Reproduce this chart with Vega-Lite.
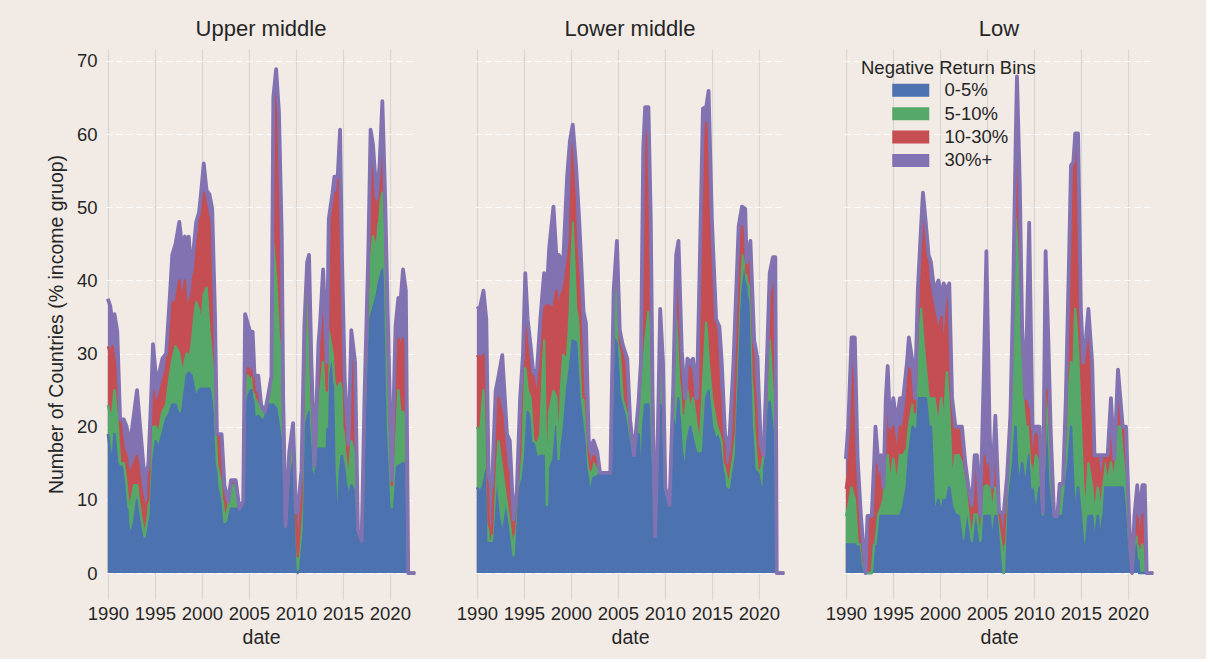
{
  "$schema": "https://vega.github.io/schema/vega-lite/v6.json",
  "background": "#F2EBE5",
  "padding": {"left": 46, "top": 18, "right": 50, "bottom": 12},
  "datasets": {
    "rows": [
      {"income":"Upper middle","date":1990.00,"upto5":19,"upto10":23,"upto30":31,"total":37.5},
      {"income":"Upper middle","date":1990.25,"upto5":16.5,"upto10":21.5,"upto30":30,"total":36.5},
      {"income":"Upper middle","date":1990.50,"upto5":15,"upto10":22,"upto30":31,"total":34},
      {"income":"Upper middle","date":1990.70,"upto5":19,"upto10":25,"upto30":29,"total":35.4},
      {"income":"Upper middle","date":1991.00,"upto5":15,"upto10":21,"upto30":26,"total":33},
      {"income":"Upper middle","date":1991.30,"upto5":14.5,"upto10":15,"upto30":21,"total":21},
      {"income":"Upper middle","date":1991.70,"upto5":14.5,"upto10":15,"upto30":17,"total":21},
      {"income":"Upper middle","date":1992.00,"upto5":10,"upto10":12,"upto30":16,"total":20},
      {"income":"Upper middle","date":1992.20,"upto5":6,"upto10":9,"upto30":14,"total":18.6},
      {"income":"Upper middle","date":1992.50,"upto5":5.5,"upto10":10,"upto30":14,"total":19},
      {"income":"Upper middle","date":1992.80,"upto5":7,"upto10":12,"upto30":15,"total":22},
      {"income":"Upper middle","date":1993.10,"upto5":10,"upto10":12,"upto30":16,"total":25},
      {"income":"Upper middle","date":1993.50,"upto5":6,"upto10":8,"upto30":12,"total":19},
      {"income":"Upper middle","date":1993.90,"upto5":4.2,"upto10":5,"upto30":9,"total":13},
      {"income":"Upper middle","date":1994.30,"upto5":7.5,"upto10":8,"upto30":10,"total":14.7},
      {"income":"Upper middle","date":1994.60,"upto5":12,"upto10":17,"upto30":21,"total":24},
      {"income":"Upper middle","date":1994.80,"upto5":15,"upto10":20,"upto30":25,"total":31.3},
      {"income":"Upper middle","date":1995.10,"upto5":18,"upto10":20,"upto30":23,"total":27},
      {"income":"Upper middle","date":1995.40,"upto5":17,"upto10":19,"upto30":24,"total":27},
      {"income":"Upper middle","date":1995.80,"upto5":19,"upto10":22,"upto30":26,"total":29.3},
      {"income":"Upper middle","date":1996.20,"upto5":21,"upto10":23,"upto30":28,"total":30},
      {"income":"Upper middle","date":1996.60,"upto5":22,"upto10":27,"upto30":34,"total":38},
      {"income":"Upper middle","date":1996.85,"upto5":23,"upto10":29,"upto30":37,"total":43.5},
      {"income":"Upper middle","date":1997.20,"upto5":23,"upto10":31,"upto30":37,"total":45},
      {"income":"Upper middle","date":1997.60,"upto5":21.5,"upto10":30,"upto30":40,"total":48},
      {"income":"Upper middle","date":1997.90,"upto5":22,"upto10":27,"upto30":37,"total":44.5},
      {"income":"Upper middle","date":1998.20,"upto5":25,"upto10":29,"upto30":40,"total":46},
      {"income":"Upper middle","date":1998.40,"upto5":27,"upto10":30,"upto30":35,"total":41.5},
      {"income":"Upper middle","date":1998.60,"upto5":27.4,"upto10":29,"upto30":37,"total":46},
      {"income":"Upper middle","date":1998.90,"upto5":27,"upto10":31,"upto30":38,"total":41},
      {"income":"Upper middle","date":1999.20,"upto5":25,"upto10":35,"upto30":42,"total":45.4},
      {"income":"Upper middle","date":1999.40,"upto5":23.9,"upto10":37,"upto30":44,"total":48},
      {"income":"Upper middle","date":1999.70,"upto5":25,"upto10":36,"upto30":47,"total":49.3},
      {"income":"Upper middle","date":1999.90,"upto5":25.2,"upto10":33,"upto30":50,"total":51.8},
      {"income":"Upper middle","date":2000.20,"upto5":25.2,"upto10":38,"upto30":52,"total":56},
      {"income":"Upper middle","date":2000.50,"upto5":25.2,"upto10":39,"upto30":50,"total":52.3},
      {"income":"Upper middle","date":2000.80,"upto5":25.2,"upto10":33,"upto30":48,"total":51.8},
      {"income":"Upper middle","date":2001.10,"upto5":23,"upto10":29,"upto30":46,"total":49.8},
      {"income":"Upper middle","date":2001.40,"upto5":17,"upto10":22,"upto30":30,"total":35},
      {"income":"Upper middle","date":2001.60,"upto5":12,"upto10":15,"upto30":19,"total":19},
      {"income":"Upper middle","date":2002.10,"upto5":9,"upto10":12,"upto30":18,"total":19},
      {"income":"Upper middle","date":2002.40,"upto5":6.4,"upto10":7,"upto30":10,"total":12},
      {"income":"Upper middle","date":2002.80,"upto5":7,"upto10":9,"upto30":9.8,"total":9.8},
      {"income":"Upper middle","date":2003.10,"upto5":8.8,"upto10":12,"upto30":12.7,"total":12.7},
      {"income":"Upper middle","date":2003.60,"upto5":8.8,"upto10":12,"upto30":12.7,"total":12.7},
      {"income":"Upper middle","date":2004.00,"upto5":8.8,"upto10":8.8,"upto30":8.8,"total":8.8},
      {"income":"Upper middle","date":2004.40,"upto5":9.8,"upto10":9.8,"upto30":9.8,"total":9.8},
      {"income":"Upper middle","date":2004.60,"upto5":21,"upto10":24,"upto30":27,"total":35.4},
      {"income":"Upper middle","date":2004.90,"upto5":24,"upto10":27,"upto30":28,"total":34},
      {"income":"Upper middle","date":2005.20,"upto5":25,"upto10":26,"upto30":27,"total":32.7},
      {"income":"Upper middle","date":2005.40,"upto5":25,"upto10":27,"upto30":28,"total":33},
      {"income":"Upper middle","date":2005.60,"upto5":21,"upto10":24,"upto30":25,"total":27},
      {"income":"Upper middle","date":2006.00,"upto5":21.5,"upto10":23,"upto30":24,"total":27},
      {"income":"Upper middle","date":2006.30,"upto5":21,"upto10":22,"upto30":23,"total":23},
      {"income":"Upper middle","date":2006.70,"upto5":21,"upto10":22,"upto30":22,"total":22},
      {"income":"Upper middle","date":2007.00,"upto5":23,"upto10":23.5,"upto30":23.9,"total":23.9},
      {"income":"Upper middle","date":2007.40,"upto5":23,"upto10":25,"upto30":26.9,"total":26.9},
      {"income":"Upper middle","date":2007.60,"upto5":23,"upto10":45,"upto30":60,"total":65},
      {"income":"Upper middle","date":2007.90,"upto5":22.5,"upto10":40,"upto30":66,"total":68.9},
      {"income":"Upper middle","date":2008.20,"upto5":20,"upto10":32,"upto30":58,"total":63},
      {"income":"Upper middle","date":2008.50,"upto5":17,"upto10":30,"upto30":43,"total":46},
      {"income":"Upper middle","date":2008.65,"upto5":9,"upto10":18,"upto30":23,"total":24},
      {"income":"Upper middle","date":2008.90,"upto5":6,"upto10":6.4,"upto30":6.4,"total":6.4},
      {"income":"Upper middle","date":2009.30,"upto5":12,"upto10":15,"upto30":16.6,"total":16.6},
      {"income":"Upper middle","date":2009.70,"upto5":15,"upto10":19,"upto30":20.5,"total":20.5},
      {"income":"Upper middle","date":2010.00,"upto5":7,"upto10":8.3,"upto30":8.3,"total":8.3},
      {"income":"Upper middle","date":2010.20,"upto5":0,"upto10":0.5,"upto30":2.3,"total":8.5},
      {"income":"Upper middle","date":2010.60,"upto5":4,"upto10":6,"upto30":10,"total":14},
      {"income":"Upper middle","date":2010.90,"upto5":19,"upto10":25,"upto30":30,"total":33.7},
      {"income":"Upper middle","date":2011.20,"upto5":21,"upto10":40,"upto30":42,"total":42.5},
      {"income":"Upper middle","date":2011.40,"upto5":22,"upto10":30,"upto30":38,"total":43.5},
      {"income":"Upper middle","date":2011.65,"upto5":14,"upto10":20,"upto30":25,"total":28.8},
      {"income":"Upper middle","date":2012.00,"upto5":12.7,"upto10":14.7,"upto30":14.7,"total":14.7},
      {"income":"Upper middle","date":2012.40,"upto5":17,"upto10":22,"upto30":28,"total":31.3},
      {"income":"Upper middle","date":2012.55,"upto5":17,"upto10":24,"upto30":31,"total":33.7},
      {"income":"Upper middle","date":2012.90,"upto5":17,"upto10":28.8,"upto30":38,"total":41.5},
      {"income":"Upper middle","date":2013.30,"upto5":17,"upto10":20,"upto30":25,"total":28.8},
      {"income":"Upper middle","date":2013.50,"upto5":26,"upto10":33,"upto30":45,"total":48.4},
      {"income":"Upper middle","date":2013.90,"upto5":28.8,"upto10":30,"upto30":50,"total":52},
      {"income":"Upper middle","date":2014.10,"upto5":14,"upto10":26,"upto30":52,"total":54.2},
      {"income":"Upper middle","date":2014.45,"upto5":6,"upto10":25,"upto30":52,"total":54.2},
      {"income":"Upper middle","date":2014.70,"upto5":14,"upto10":26,"upto30":58,"total":60.6},
      {"income":"Upper middle","date":2014.90,"upto5":16,"upto10":25,"upto30":40,"total":43.5},
      {"income":"Upper middle","date":2015.20,"upto5":14,"upto10":17,"upto30":20,"total":26.4},
      {"income":"Upper middle","date":2015.60,"upto5":10,"upto10":12,"upto30":17.6,"total":17.6},
      {"income":"Upper middle","date":2015.90,"upto5":12,"upto10":18,"upto30":30,"total":33.2},
      {"income":"Upper middle","date":2016.30,"upto5":11,"upto10":16,"upto30":26,"total":28.8},
      {"income":"Upper middle","date":2016.60,"upto5":5.9,"upto10":5.9,"upto30":5.9,"total":5.9},
      {"income":"Upper middle","date":2017.00,"upto5":4.4,"upto10":4.4,"upto30":4.4,"total":4.4},
      {"income":"Upper middle","date":2017.30,"upto5":19,"upto10":21,"upto30":22,"total":23.9},
      {"income":"Upper middle","date":2017.70,"upto5":33,"upto10":37,"upto30":40,"total":43.5},
      {"income":"Upper middle","date":2017.95,"upto5":35,"upto10":42,"upto30":56,"total":60.6},
      {"income":"Upper middle","date":2018.20,"upto5":36,"upto10":46,"upto30":55,"total":58.6},
      {"income":"Upper middle","date":2018.60,"upto5":38,"upto10":44,"upto30":48,"total":51.3},
      {"income":"Upper middle","date":2018.90,"upto5":40,"upto10":50,"upto30":53,"total":55.7},
      {"income":"Upper middle","date":2019.20,"upto5":41.5,"upto10":52,"upto30":60,"total":64.5},
      {"income":"Upper middle","date":2019.50,"upto5":33,"upto10":40,"upto30":48,"total":51.3},
      {"income":"Upper middle","date":2019.80,"upto5":17,"upto10":20,"upto30":30,"total":33.7},
      {"income":"Upper middle","date":2020.20,"upto5":8,"upto10":9,"upto30":12,"total":12.7},
      {"income":"Upper middle","date":2020.60,"upto5":14,"upto10":16,"upto30":27,"total":33.7},
      {"income":"Upper middle","date":2020.90,"upto5":14.7,"upto10":25,"upto30":32,"total":37.6},
      {"income":"Upper middle","date":2021.10,"upto5":14.7,"upto10":22,"upto30":31,"total":36.6},
      {"income":"Upper middle","date":2021.40,"upto5":15,"upto10":22,"upto30":32,"total":41.5},
      {"income":"Upper middle","date":2021.70,"upto5":15,"upto10":20,"upto30":28,"total":38.6},
      {"income":"Upper middle","date":2021.95,"upto5":0,"upto10":0,"upto30":0,"total":0},
      {"income":"Upper middle","date":2022.70,"upto5":0,"upto10":0,"upto30":0,"total":0},

      {"income":"Lower middle","date":1990.00,"upto5":11.7,"upto10":20,"upto30":29.8,"total":36.1},
      {"income":"Lower middle","date":1990.35,"upto5":11,"upto10":19,"upto30":29.3,"total":36.4},
      {"income":"Lower middle","date":1990.70,"upto5":12,"upto10":25,"upto30":29.8,"total":38.6},
      {"income":"Lower middle","date":1991.00,"upto5":14,"upto10":23.9,"upto30":24,"total":34.7},
      {"income":"Lower middle","date":1991.25,"upto5":4.4,"upto10":4.4,"upto30":6.8,"total":13.2},
      {"income":"Lower middle","date":1991.60,"upto5":4.4,"upto10":4.4,"upto30":5.4,"total":11.7},
      {"income":"Lower middle","date":1992.00,"upto5":12,"upto10":12,"upto30":19,"total":24.9},
      {"income":"Lower middle","date":1992.30,"upto5":8,"upto10":18,"upto30":24,"total":26.9},
      {"income":"Lower middle","date":1992.70,"upto5":5,"upto10":14,"upto30":21.5,"total":29.8},
      {"income":"Lower middle","date":1993.20,"upto5":9,"upto10":9.3,"upto30":14.2,"total":19},
      {"income":"Lower middle","date":1993.50,"upto5":5,"upto10":6.8,"upto30":13.7,"total":18.1},
      {"income":"Lower middle","date":1993.90,"upto5":2.4,"upto10":2.4,"upto30":5.4,"total":7.3},
      {"income":"Lower middle","date":1994.25,"upto5":10,"upto10":10.3,"upto30":10.5,"total":11.2},
      {"income":"Lower middle","date":1994.60,"upto5":11.7,"upto10":14.2,"upto30":16.6,"total":23.9},
      {"income":"Lower middle","date":1994.90,"upto5":13,"upto10":25,"upto30":29,"total":29.8},
      {"income":"Lower middle","date":1995.15,"upto5":16,"upto10":28,"upto30":33.7,"total":41},
      {"income":"Lower middle","date":1995.40,"upto5":22,"upto10":25,"upto30":31,"total":34.7},
      {"income":"Lower middle","date":1995.70,"upto5":21,"upto10":23.9,"upto30":27.4,"total":31.3},
      {"income":"Lower middle","date":1996.00,"upto5":18,"upto10":18.1,"upto30":26.9,"total":27.4},
      {"income":"Lower middle","date":1996.40,"upto5":15.6,"upto10":17.6,"upto30":23.9,"total":27.8},
      {"income":"Lower middle","date":1996.75,"upto5":16,"upto10":19,"upto30":28.8,"total":34.7},
      {"income":"Lower middle","date":1997.15,"upto5":16,"upto10":31.8,"upto30":36.1,"total":41},
      {"income":"Lower middle","date":1997.45,"upto5":9.3,"upto10":9.3,"upto30":36.6,"total":39},
      {"income":"Lower middle","date":1997.70,"upto5":14,"upto10":22,"upto30":36.5,"total":44.5},
      {"income":"Lower middle","date":1998.15,"upto5":15.6,"upto10":24.9,"upto30":36.1,"total":50.1},
      {"income":"Lower middle","date":1998.45,"upto5":20,"upto10":24,"upto30":38.6,"total":43.5},
      {"income":"Lower middle","date":1998.70,"upto5":14,"upto10":15.6,"upto30":35.7,"total":43.5},
      {"income":"Lower middle","date":1998.95,"upto5":17,"upto10":25,"upto30":38,"total":43},
      {"income":"Lower middle","date":1999.20,"upto5":19,"upto10":29.8,"upto30":38.6,"total":43},
      {"income":"Lower middle","date":1999.60,"upto5":25,"upto10":29,"upto30":42,"total":54.2},
      {"income":"Lower middle","date":1999.90,"upto5":28,"upto10":36,"upto30":45.4,"total":59.1},
      {"income":"Lower middle","date":2000.20,"upto5":31.8,"upto10":47.9,"upto30":59.1,"total":61.3},
      {"income":"Lower middle","date":2000.55,"upto5":31.5,"upto10":36.1,"upto30":45.4,"total":55.7},
      {"income":"Lower middle","date":2000.90,"upto5":23.9,"upto10":33.7,"upto30":38.6,"total":47.9},
      {"income":"Lower middle","date":2001.35,"upto5":19,"upto10":23.9,"upto30":24,"total":35.7},
      {"income":"Lower middle","date":2001.60,"upto5":17,"upto10":20,"upto30":23.9,"total":34.2},
      {"income":"Lower middle","date":2001.90,"upto5":11.7,"upto10":14.2,"upto30":16.6,"total":18.1},
      {"income":"Lower middle","date":2002.10,"upto5":11.2,"upto10":13,"upto30":14.2,"total":16.6},
      {"income":"Lower middle","date":2002.40,"upto5":13,"upto10":15,"upto30":16,"total":18.1},
      {"income":"Lower middle","date":2002.80,"upto5":13.2,"upto10":14,"upto30":15.5,"total":16.6},
      {"income":"Lower middle","date":2003.10,"upto5":13.7,"upto10":13.7,"upto30":13.7,"total":13.7},
      {"income":"Lower middle","date":2004.20,"upto5":13.7,"upto10":13.7,"upto30":13.7,"total":13.7},
      {"income":"Lower middle","date":2004.55,"upto5":32.2,"upto10":32.2,"upto30":37.6,"total":38.6},
      {"income":"Lower middle","date":2004.90,"upto5":31.3,"upto10":40.5,"upto30":43.5,"total":45.4},
      {"income":"Lower middle","date":2005.20,"upto5":24,"upto10":30,"upto30":31.8,"total":33.2},
      {"income":"Lower middle","date":2005.50,"upto5":23.9,"upto10":23.9,"upto30":29.8,"total":31.3},
      {"income":"Lower middle","date":2006.00,"upto5":21.5,"upto10":21.5,"upto30":27.4,"total":29.3},
      {"income":"Lower middle","date":2006.30,"upto5":17,"upto10":19,"upto30":20,"total":21},
      {"income":"Lower middle","date":2006.70,"upto5":16.1,"upto10":16.1,"upto30":16.1,"total":16.1},
      {"income":"Lower middle","date":2007.20,"upto5":19,"upto10":23,"upto30":23.2,"total":23.4},
      {"income":"Lower middle","date":2007.45,"upto5":12.2,"upto10":22.5,"upto30":27.8,"total":28.8},
      {"income":"Lower middle","date":2007.70,"upto5":20,"upto10":28,"upto30":45,"total":58.1},
      {"income":"Lower middle","date":2007.90,"upto5":23,"upto10":31.3,"upto30":60.6,"total":63.7},
      {"income":"Lower middle","date":2008.25,"upto5":23,"upto10":35.7,"upto30":58.1,"total":63.7},
      {"income":"Lower middle","date":2008.50,"upto5":14,"upto10":25,"upto30":36.1,"total":48.4},
      {"income":"Lower middle","date":2008.70,"upto5":11.7,"upto10":20,"upto30":23.9,"total":23.9},
      {"income":"Lower middle","date":2008.95,"upto5":4.4,"upto10":5,"upto30":5,"total":5},
      {"income":"Lower middle","date":2009.25,"upto5":18,"upto10":18.5,"upto30":18.8,"total":19},
      {"income":"Lower middle","date":2009.50,"upto5":23,"upto10":30.3,"upto30":35.2,"total":36.1},
      {"income":"Lower middle","date":2009.80,"upto5":21.5,"upto10":24,"upto30":27,"total":28.8},
      {"income":"Lower middle","date":2010.05,"upto5":11.7,"upto10":11.7,"upto30":11.7,"total":11.7},
      {"income":"Lower middle","date":2010.50,"upto5":9.3,"upto10":9.3,"upto30":9.3,"total":9.3},
      {"income":"Lower middle","date":2010.90,"upto5":21,"upto10":24,"upto30":25,"total":25.9},
      {"income":"Lower middle","date":2011.20,"upto5":18.6,"upto10":38.6,"upto30":40,"total":43.5},
      {"income":"Lower middle","date":2011.45,"upto5":23.9,"upto10":28.8,"upto30":35,"total":45.4},
      {"income":"Lower middle","date":2011.80,"upto5":16.6,"upto10":21.5,"upto30":25.9,"total":30.3},
      {"income":"Lower middle","date":2012.15,"upto5":13.7,"upto10":21.5,"upto30":23.9,"total":23.9},
      {"income":"Lower middle","date":2012.40,"upto5":18,"upto10":24.9,"upto30":28.8,"total":29.3},
      {"income":"Lower middle","date":2012.70,"upto5":20,"upto10":22,"upto30":27.8,"total":28.8},
      {"income":"Lower middle","date":2013.00,"upto5":18.1,"upto10":23.9,"upto30":27.8,"total":29.3},
      {"income":"Lower middle","date":2013.40,"upto5":16.1,"upto10":20,"upto30":23.9,"total":23.9},
      {"income":"Lower middle","date":2013.70,"upto5":16.6,"upto10":16.6,"upto30":38.6,"total":41.5},
      {"income":"Lower middle","date":2014.05,"upto5":16.1,"upto10":25.4,"upto30":55.7,"total":63.5},
      {"income":"Lower middle","date":2014.40,"upto5":23.9,"upto10":34.2,"upto30":61.5,"total":63.7},
      {"income":"Lower middle","date":2014.65,"upto5":24.9,"upto10":28.8,"upto30":60.1,"total":65.9},
      {"income":"Lower middle","date":2015.00,"upto5":20,"upto10":23.9,"upto30":43.5,"total":48.4},
      {"income":"Lower middle","date":2015.45,"upto5":18.1,"upto10":20.5,"upto30":33.7,"total":34.7},
      {"income":"Lower middle","date":2015.80,"upto5":19,"upto10":19,"upto30":24.9,"total":33.7},
      {"income":"Lower middle","date":2016.05,"upto5":17,"upto10":18,"upto30":24.9,"total":28.8},
      {"income":"Lower middle","date":2016.40,"upto5":11.7,"upto10":14.2,"upto30":15.1,"total":19},
      {"income":"Lower middle","date":2016.80,"upto5":11.2,"upto10":11.7,"upto30":14.2,"total":16.6},
      {"income":"Lower middle","date":2017.30,"upto5":16.1,"upto10":16.1,"upto30":19,"total":28.8},
      {"income":"Lower middle","date":2017.85,"upto5":28,"upto10":35,"upto30":38.6,"total":47.4},
      {"income":"Lower middle","date":2018.20,"upto5":38,"upto10":43.5,"upto30":47.4,"total":50.1},
      {"income":"Lower middle","date":2018.55,"upto5":41.5,"upto10":42,"upto30":45,"total":49.8},
      {"income":"Lower middle","date":2018.70,"upto5":38,"upto10":40,"upto30":41,"total":42.5},
      {"income":"Lower middle","date":2019.10,"upto5":35.7,"upto10":38.6,"upto30":43.5,"total":45.4},
      {"income":"Lower middle","date":2019.50,"upto5":14,"upto10":20,"upto30":26.4,"total":31.8},
      {"income":"Lower middle","date":2019.85,"upto5":14.2,"upto10":14.2,"upto30":21,"total":29.3},
      {"income":"Lower middle","date":2020.20,"upto5":11.7,"upto10":13.7,"upto30":16.6,"total":17.6},
      {"income":"Lower middle","date":2020.50,"upto5":11.7,"upto10":16.1,"upto30":16.1,"total":16.1},
      {"income":"Lower middle","date":2020.85,"upto5":21.5,"upto10":23.9,"upto30":26.4,"total":28.8},
      {"income":"Lower middle","date":2021.15,"upto5":23.4,"upto10":31.8,"upto30":38.6,"total":41},
      {"income":"Lower middle","date":2021.50,"upto5":19,"upto10":24,"upto30":38.6,"total":43.2},
      {"income":"Lower middle","date":2021.75,"upto5":15,"upto10":22,"upto30":40,"total":43.2},
      {"income":"Lower middle","date":2021.90,"upto5":0,"upto10":0,"upto30":0,"total":0},
      {"income":"Lower middle","date":2022.70,"upto5":0,"upto10":0,"upto30":0,"total":0},

      {"income":"Low","date":1990.00,"upto5":3.9,"upto10":7.8,"upto30":11.5,"total":15.6},
      {"income":"Low","date":1990.25,"upto5":3.9,"upto10":9,"upto30":14,"total":20},
      {"income":"Low","date":1990.60,"upto5":3.9,"upto10":11.7,"upto30":28.8,"total":32.2},
      {"income":"Low","date":1990.95,"upto5":3.9,"upto10":10,"upto30":22,"total":32.2},
      {"income":"Low","date":1991.25,"upto5":3.9,"upto10":3.9,"upto30":10,"total":15.6},
      {"income":"Low","date":1991.60,"upto5":3.9,"upto10":3.9,"upto30":6,"total":7.8},
      {"income":"Low","date":1991.85,"upto5":0.5,"upto10":1,"upto30":2,"total":3.9},
      {"income":"Low","date":1992.10,"upto5":0,"upto10":0,"upto30":0,"total":0},
      {"income":"Low","date":1992.30,"upto5":0,"upto10":0,"upto30":7.8,"total":7.8},
      {"income":"Low","date":1992.75,"upto5":0,"upto10":0,"upto30":7.8,"total":7.8},
      {"income":"Low","date":1993.00,"upto5":3.9,"upto10":3.9,"upto30":12,"total":15},
      {"income":"Low","date":1993.15,"upto5":3.9,"upto10":4,"upto30":16,"total":20},
      {"income":"Low","date":1993.45,"upto5":7.8,"upto10":8,"upto30":12,"total":15.1},
      {"income":"Low","date":1993.75,"upto5":7.8,"upto10":9,"upto30":14,"total":16.1},
      {"income":"Low","date":1994.00,"upto5":7.8,"upto10":10,"upto30":11.7,"total":11.7},
      {"income":"Low","date":1994.25,"upto5":7.8,"upto10":14,"upto30":20,"total":23.9},
      {"income":"Low","date":1994.45,"upto5":7.8,"upto10":16.1,"upto30":24,"total":28.3},
      {"income":"Low","date":1994.70,"upto5":7.8,"upto10":11.7,"upto30":18,"total":20},
      {"income":"Low","date":1995.05,"upto5":7.8,"upto10":15.6,"upto30":20,"total":23.9},
      {"income":"Low","date":1995.40,"upto5":7.8,"upto10":11.7,"upto30":16.1,"total":20.5},
      {"income":"Low","date":1995.75,"upto5":7.8,"upto10":16.1,"upto30":20,"total":23.9},
      {"income":"Low","date":1996.10,"upto5":9,"upto10":16.1,"upto30":20,"total":23.9},
      {"income":"Low","date":1996.50,"upto5":12,"upto10":17,"upto30":24,"total":28.8},
      {"income":"Low","date":1996.70,"upto5":16,"upto10":20,"upto30":28,"total":32.2},
      {"income":"Low","date":1997.10,"upto5":20,"upto10":23,"upto30":27,"total":28.8},
      {"income":"Low","date":1997.35,"upto5":20,"upto10":20,"upto30":22,"total":23.9},
      {"income":"Low","date":1997.65,"upto5":23.9,"upto10":27.8,"upto30":34,"total":38.6},
      {"income":"Low","date":1998.00,"upto5":23.9,"upto10":36.1,"upto30":44,"total":47.4},
      {"income":"Low","date":1998.20,"upto5":23.9,"upto10":32.2,"upto30":48,"total":52},
      {"income":"Low","date":1998.50,"upto5":23.9,"upto10":28,"upto30":46,"total":47.9},
      {"income":"Low","date":1998.80,"upto5":20,"upto10":23.9,"upto30":40,"total":43.5},
      {"income":"Low","date":1999.05,"upto5":20,"upto10":23.9,"upto30":38,"total":42.5},
      {"income":"Low","date":1999.40,"upto5":8,"upto10":23.9,"upto30":35.7,"total":38.6},
      {"income":"Low","date":1999.85,"upto5":10,"upto10":20,"upto30":33,"total":40},
      {"income":"Low","date":2000.15,"upto5":8,"upto10":23.9,"upto30":35,"total":37.6},
      {"income":"Low","date":2000.40,"upto5":10,"upto10":20,"upto30":30,"total":39.6},
      {"income":"Low","date":2000.75,"upto5":10,"upto10":27.4,"upto30":36,"total":38.6},
      {"income":"Low","date":2001.00,"upto5":11.7,"upto10":22,"upto30":38.6,"total":39.6},
      {"income":"Low","date":2001.30,"upto5":9,"upto10":12,"upto30":22,"total":23.9},
      {"income":"Low","date":2001.65,"upto5":8,"upto10":16.1,"upto30":20,"total":20},
      {"income":"Low","date":2002.00,"upto5":7.8,"upto10":16.1,"upto30":20,"total":20},
      {"income":"Low","date":2002.35,"upto5":4.4,"upto10":15,"upto30":18,"total":20},
      {"income":"Low","date":2002.70,"upto5":4.4,"upto10":12,"upto30":14,"total":15.1},
      {"income":"Low","date":2003.05,"upto5":7.8,"upto10":7.8,"upto30":11.7,"total":11.7},
      {"income":"Low","date":2003.40,"upto5":3.9,"upto10":4.4,"upto30":9.3,"total":9.3},
      {"income":"Low","date":2003.70,"upto5":7.8,"upto10":8,"upto30":16.1,"total":16.1},
      {"income":"Low","date":2003.95,"upto5":7.8,"upto10":8,"upto30":14,"total":16.1},
      {"income":"Low","date":2004.30,"upto5":3.9,"upto10":4.4,"upto30":7.8,"total":7.8},
      {"income":"Low","date":2004.70,"upto5":7.8,"upto10":11.7,"upto30":16,"total":28.8},
      {"income":"Low","date":2004.95,"upto5":7.8,"upto10":12,"upto30":14,"total":44},
      {"income":"Low","date":2005.30,"upto5":7.8,"upto10":11.7,"upto30":15,"total":19},
      {"income":"Low","date":2005.55,"upto5":4.4,"upto10":7.8,"upto30":11.7,"total":11.7},
      {"income":"Low","date":2005.90,"upto5":7.8,"upto10":11.7,"upto30":18,"total":21.5},
      {"income":"Low","date":2006.30,"upto5":7.8,"upto10":7.8,"upto30":8.3,"total":8.3},
      {"income":"Low","date":2006.80,"upto5":0,"upto10":0,"upto30":4,"total":8.3},
      {"income":"Low","date":2007.15,"upto5":7.8,"upto10":11.7,"upto30":13.2,"total":13.2},
      {"income":"Low","date":2007.50,"upto5":11.7,"upto10":20,"upto30":21.5,"total":21.5},
      {"income":"Low","date":2007.80,"upto5":15,"upto10":30,"upto30":36,"total":38.6},
      {"income":"Low","date":2008.05,"upto5":20,"upto10":48.4,"upto30":56,"total":58.1},
      {"income":"Low","date":2008.20,"upto5":15,"upto10":45,"upto30":62,"total":67.9},
      {"income":"Low","date":2008.50,"upto5":11.7,"upto10":35,"upto30":48,"total":53.2},
      {"income":"Low","date":2008.75,"upto5":15,"upto10":25,"upto30":32,"total":33.7},
      {"income":"Low","date":2009.10,"upto5":11.7,"upto10":20,"upto30":23.9,"total":23.9},
      {"income":"Low","date":2009.50,"upto5":16.1,"upto10":20,"upto30":22,"total":47.9},
      {"income":"Low","date":2009.85,"upto5":11.7,"upto10":11.7,"upto30":15,"total":20},
      {"income":"Low","date":2010.20,"upto5":7.8,"upto10":16.1,"upto30":19,"total":20},
      {"income":"Low","date":2010.60,"upto5":11.7,"upto10":15,"upto30":18,"total":20},
      {"income":"Low","date":2010.95,"upto5":7.8,"upto10":8,"upto30":8.3,"total":8.3},
      {"income":"Low","date":2011.25,"upto5":12,"upto10":23.9,"upto30":25,"total":44},
      {"income":"Low","date":2011.55,"upto5":20,"upto10":20,"upto30":25,"total":31.3},
      {"income":"Low","date":2011.80,"upto5":11.7,"upto10":12,"upto30":17,"total":19},
      {"income":"Low","date":2012.15,"upto5":7.8,"upto10":7.8,"upto30":7.8,"total":7.8},
      {"income":"Low","date":2012.50,"upto5":7.8,"upto10":7.8,"upto30":7.8,"total":7.8},
      {"income":"Low","date":2012.75,"upto5":7.8,"upto10":11.7,"upto30":12.2,"total":12.2},
      {"income":"Low","date":2013.10,"upto5":7.8,"upto10":11.7,"upto30":12.2,"total":12.2},
      {"income":"Low","date":2013.40,"upto5":11.7,"upto10":16.1,"upto30":20,"total":23.9},
      {"income":"Low","date":2013.75,"upto5":16,"upto10":25,"upto30":40,"total":43.5},
      {"income":"Low","date":2013.95,"upto5":20,"upto10":28.8,"upto30":52,"total":55.7},
      {"income":"Low","date":2014.20,"upto5":11.7,"upto10":26,"upto30":54,"total":56.2},
      {"income":"Low","date":2014.40,"upto5":7.8,"upto10":36.1,"upto30":58,"total":60.1},
      {"income":"Low","date":2014.70,"upto5":11.7,"upto10":30,"upto30":58,"total":60.1},
      {"income":"Low","date":2015.00,"upto5":7.8,"upto10":20,"upto30":34,"total":36.1},
      {"income":"Low","date":2015.25,"upto5":3.9,"upto10":12,"upto30":26,"total":28.8},
      {"income":"Low","date":2015.55,"upto5":3.9,"upto10":7.8,"upto30":30,"total":32.2},
      {"income":"Low","date":2015.80,"upto5":7.8,"upto10":15,"upto30":32,"total":36.1},
      {"income":"Low","date":2016.20,"upto5":7.8,"upto10":11.7,"upto30":24,"total":28.8},
      {"income":"Low","date":2016.45,"upto5":3.9,"upto10":7.8,"upto30":16.1,"total":16.1},
      {"income":"Low","date":2016.80,"upto5":7.8,"upto10":11.7,"upto30":16.1,"total":16.1},
      {"income":"Low","date":2017.15,"upto5":3.9,"upto10":7.8,"upto30":12,"total":16.1},
      {"income":"Low","date":2017.50,"upto5":11.7,"upto10":15.1,"upto30":16.1,"total":16.1},
      {"income":"Low","date":2017.85,"upto5":11.7,"upto10":12,"upto30":16.1,"total":16.1},
      {"income":"Low","date":2018.20,"upto5":11.7,"upto10":15.1,"upto30":20,"total":23.9},
      {"income":"Low","date":2018.55,"upto5":11.7,"upto10":12,"upto30":15.6,"total":15.6},
      {"income":"Low","date":2018.95,"upto5":11.7,"upto10":20,"upto30":24,"total":27.8},
      {"income":"Low","date":2019.20,"upto5":11.7,"upto10":20,"upto30":22,"total":23.9},
      {"income":"Low","date":2019.45,"upto5":11.7,"upto10":16,"upto30":20,"total":20},
      {"income":"Low","date":2019.80,"upto5":7.8,"upto10":12,"upto30":20,"total":20},
      {"income":"Low","date":2020.15,"upto5":3.9,"upto10":3.9,"upto30":5,"total":6.8},
      {"income":"Low","date":2020.45,"upto5":0,"upto10":0,"upto30":0,"total":0},
      {"income":"Low","date":2020.70,"upto5":3.9,"upto10":4,"upto30":7.8,"total":7.8},
      {"income":"Low","date":2021.00,"upto5":3.9,"upto10":5,"upto30":8,"total":12},
      {"income":"Low","date":2021.20,"upto5":0,"upto10":2,"upto30":4,"total":7.8},
      {"income":"Low","date":2021.55,"upto5":0,"upto10":3.9,"upto30":8,"total":12},
      {"income":"Low","date":2021.80,"upto5":0,"upto10":2,"upto30":4,"total":12},
      {"income":"Low","date":2022.00,"upto5":0,"upto10":0,"upto30":0,"total":0},
      {"income":"Low","date":2022.70,"upto5":0,"upto10":0,"upto30":0,"total":0}
    ]
  },
  "data": {"name": "rows"},
  "facet": {
    "column": {
      "field": "income", "type": "nominal",
      "sort": ["Upper middle", "Lower middle", "Low"],
      "header": {"title": null, "labelFontSize": 22, "labelFontWeight": "normal", "labelColor": "#262626", "labelPadding": 8}
    }
  },
  "spacing": 59,
  "bounds": "flush",
  "spec": {
    "width": 310,
    "height": 550,
    "encoding": {
      "x": {
        "field": "date", "type": "quantitative",
        "scale": {"domain": [1989.8, 2022.78], "nice": false, "zero": false},
        "axis": {"values": [1990, 1995, 2000, 2005, 2010, 2015, 2020], "format": "d", "title": "date"}
      }
    },
    "layer": [
      {
        "mark": {"type": "area", "opacity": 1},
        "encoding": {
          "y": {"field": "total", "type": "quantitative", "title": "Number of Countries (% income gruop)",
                "scale": {"domain": [-3.55, 71.64], "nice": false, "zero": false},
                "axis": {"values": [0, 10, 20, 30, 40, 50, 60, 70]}},
          "y2": {"datum": 0},
          "color": {"datum": "30%+", "type": "nominal",
                    "scale": {"domain": ["0-5%", "5-10%", "10-30%", "30%+"], "range": ["#4C72B0", "#55A868", "#C44E52", "#8172B2"]},
                    "legend": {"title": "Negative Return Bins"}}
        }
      },
      {
        "mark": {"type": "area", "opacity": 1},
        "encoding": {
          "y": {"field": "upto30", "type": "quantitative", "title": "Number of Countries (% income gruop)",
                "scale": {"domain": [-3.55, 71.64], "nice": false, "zero": false},
                "axis": {"values": [0, 10, 20, 30, 40, 50, 60, 70]}},
          "y2": {"datum": 0},
          "color": {"datum": "10-30%", "type": "nominal"}
        }
      },
      {
        "mark": {"type": "area", "opacity": 1},
        "encoding": {
          "y": {"field": "upto10", "type": "quantitative", "title": "Number of Countries (% income gruop)",
                "scale": {"domain": [-3.55, 71.64], "nice": false, "zero": false},
                "axis": {"values": [0, 10, 20, 30, 40, 50, 60, 70]}},
          "y2": {"datum": 0},
          "color": {"datum": "5-10%", "type": "nominal"}
        }
      },
      {
        "mark": {"type": "area", "opacity": 1},
        "encoding": {
          "y": {"field": "upto5", "type": "quantitative", "title": "Number of Countries (% income gruop)",
                "scale": {"domain": [-3.55, 71.64], "nice": false, "zero": false},
                "axis": {"values": [0, 10, 20, 30, 40, 50, 60, 70]}},
          "y2": {"datum": 0},
          "color": {"datum": "0-5%", "type": "nominal"}
        }
      },
      {
        "mark": {"type": "line", "stroke": "#4C72B0", "strokeWidth": 2.5, "strokeJoin": "round"},
        "encoding": {"y": {"field": "upto5", "type": "quantitative", "title": "Number of Countries (% income gruop)"}}
      },
      {
        "mark": {"type": "line", "stroke": "#55A868", "strokeWidth": 2.5, "strokeJoin": "round"},
        "encoding": {"y": {"field": "upto10", "type": "quantitative", "title": "Number of Countries (% income gruop)"}}
      },
      {
        "mark": {"type": "line", "stroke": "#C44E52", "strokeWidth": 2.5, "strokeJoin": "round"},
        "encoding": {"y": {"field": "upto30", "type": "quantitative", "title": "Number of Countries (% income gruop)"}}
      },
      {
        "mark": {"type": "line", "stroke": "#8172B2", "strokeWidth": 3.8, "strokeJoin": "round"},
        "encoding": {"y": {"field": "total", "type": "quantitative", "title": "Number of Countries (% income gruop)"}}
      }
    ]
  },
  "config": {
    "font": "Liberation Sans",
    "view": {"stroke": null},
    "axis": {
      "ticks": false, "domain": false, "grid": true,
      "labelFontSize": 18.5, "labelColor": "#262626",
      "titleFontSize": 19.5, "titleFontWeight": "normal", "titleColor": "#262626",
      "labelFlush": false
    },
    "axisX": {"gridColor": "#d6d6d6", "gridWidth": 1.3, "labelPadding": 5, "titlePadding": 6},
    "axisY": {"gridColor": "#ffffff", "gridDash": [6, 4], "gridWidth": 1.2, "labelPadding": 9, "titlePadding": 10},
    "legend": {
      "orient": "none", "legendX": 755, "legendY": 10,
      "titleFontSize": 18.5, "titleFontWeight": "normal", "titleColor": "#262626",
      "labelFontSize": 18.5, "labelColor": "#262626",
      "symbolType": "M3.14,-0.93H8.43V0.93H3.14Z", "symbolSize": 196, "symbolStrokeWidth": 0, "symbolOpacity": 1,
      "labelOffset": 65, "rowPadding": 4.4, "titlePadding": 3.5, "padding": 0
    }
  }
}
